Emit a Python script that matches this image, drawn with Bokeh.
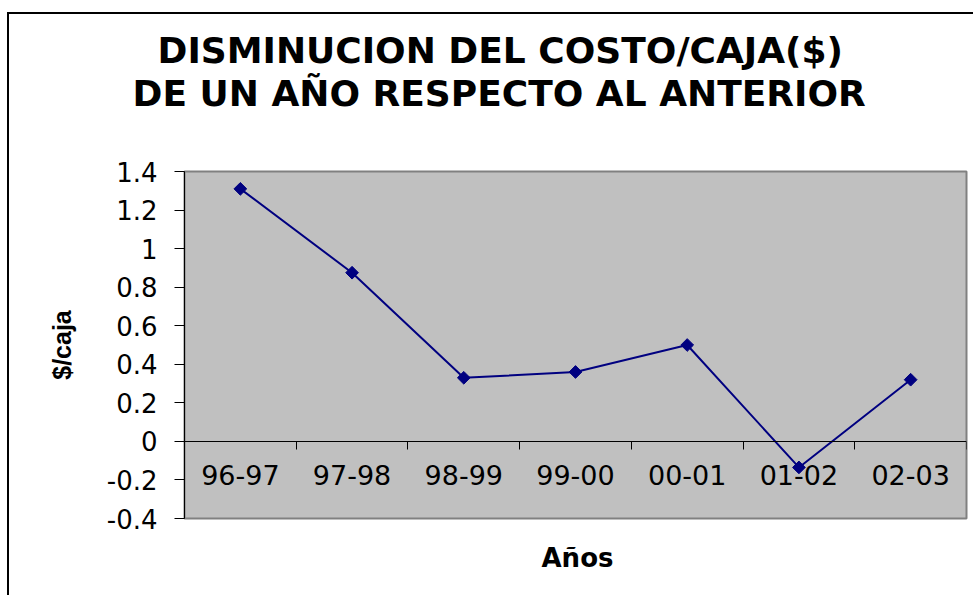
import math
from bokeh.plotting import figure
from bokeh.models import Range1d, FixedTicker, LinearAxis, Title, ColumnDataSource
from bokeh.embed import file_html
from bokeh.resources import INLINE

# ---- data ----
categories = ["96-97", "97-98", "98-99", "99-00", "00-01", "01-02", "02-03"]
values = [1.31, 0.875, 0.33, 0.36, 0.50, -0.135, 0.32]
ytick_values = [-0.4, -0.2, 0.0, 0.2, 0.4, 0.6, 0.8, 1.0, 1.2, 1.4]
ytick_labels = ["-0.4", "-0.2", "0", "0.2", "0.4", "0.6", "0.8", "1", "1.2", "1.4"]
title_lines = ["DISMINUCION DEL COSTO/CAJA($)", "DE UN AÑO RESPECTO AL ANTERIOR"]
x_title = "Años"
y_title = "$/caja"

n = len(categories)
xpos = [i + 0.5 for i in range(n)]
bounds = list(range(n + 1))
ymin, ymax = ytick_values[0], ytick_values[-1]

src = ColumnDataSource(dict(x=xpos, y=values, cat=categories))

p = figure(width=966, height=583, output_backend="svg", toolbar_location=None,
           x_range=Range1d(0, n), y_range=Range1d(ymin, ymax),
           x_axis_type=None, y_axis_type=None,
           min_border_left=175, min_border_top=157, min_border_right=9, min_border_bottom=79)
p.styles = {"border-left": "2px solid black", "border-top": "2px solid black",
            "margin-left": "7px", "margin-top": "12px"}
p.background_fill_color = "#C0C0C0"
p.border_fill_color = "white"
p.outline_line_color = "#808080"
p.outline_line_width = 2

# y axis
yaxis = LinearAxis(ticker=FixedTicker(ticks=ytick_values))
yaxis.major_label_overrides = {v: s for v, s in zip(ytick_values, ytick_labels)}
yaxis.major_label_text_font = "DejaVu Sans"
yaxis.major_label_text_font_size = "26px"
yaxis.major_label_text_color = "black"
yaxis.major_tick_out = 10
yaxis.major_tick_in = 0
yaxis.minor_tick_out = 0
yaxis.minor_tick_in = 0
yaxis.major_label_standoff = 17
yaxis.axis_line_color = "black"
yaxis.major_tick_line_color = "black"
yaxis.axis_label = y_title
yaxis.axis_label_text_font = "Liberation Sans"
yaxis.axis_label_text_font_style = "bold"
yaxis.axis_label_text_font_size = "25px"
yaxis.axis_label_text_color = "black"
yaxis.axis_label_standoff = 28
p.add_layout(yaxis, "left")

# horizontal grid lines
p.ygrid.grid_line_color = "black"
p.ygrid.ticker = FixedTicker(ticks=ytick_values)
p.xgrid.grid_line_color = None

# x axis with boundary ticks at y = 0
xaxis_ticks = LinearAxis(ticker=FixedTicker(ticks=bounds), fixed_location=0)
xaxis_ticks.major_label_text_alpha = 0
xaxis_ticks.major_tick_out = 8
xaxis_ticks.major_tick_in = 0
xaxis_ticks.minor_tick_out = 0
xaxis_ticks.minor_tick_in = 0
xaxis_ticks.axis_line_color = "black"
xaxis_ticks.major_tick_line_color = "black"
p.add_layout(xaxis_ticks, "below")

# x axis with category labels at centers
xaxis_labels = LinearAxis(ticker=FixedTicker(ticks=xpos), fixed_location=0)
xaxis_labels.major_label_overrides = {v: c for v, c in zip(xpos, categories)}
xaxis_labels.major_label_text_font = "DejaVu Sans"
xaxis_labels.major_label_text_font_size = "27px"
xaxis_labels.major_label_text_color = "black"
xaxis_labels.major_tick_out = 0
xaxis_labels.major_tick_in = 0
xaxis_labels.minor_tick_out = 0
xaxis_labels.minor_tick_in = 0
xaxis_labels.axis_line_color = None
xaxis_labels.major_label_standoff = 24
p.add_layout(xaxis_labels, "below")

# data
p.line("x", "y", source=src, line_color="#000080", line_width=2)
p.scatter("x", "y", source=src, marker="square", angle=math.pi / 4, size=9,
          fill_color="#000080", line_color="#000080")

# titles (first added is nearest the frame)
spacer = Title(text=" ", align="left", standoff=15,
               text_font="DejaVu Sans", text_font_size="36px", text_color="white")
t2 = Title(text=title_lines[1], align="left", offset=-52, standoff=0,
           text_font="DejaVu Sans", text_font_style="bold", text_font_size="36px",
           text_color="black")
t1 = Title(text=title_lines[0], align="left", offset=-27, standoff=0,
           text_font="DejaVu Sans", text_font_style="bold", text_font_size="36px",
           text_color="black")
p.add_layout(spacer, "above")
p.add_layout(t2, "above")
p.add_layout(t1, "above")

# x axis title below the plot area
tx = Title(text=x_title, align="left", offset=357, standoff=46, vertical_align="middle",
           text_font="DejaVu Sans", text_font_style="bold", text_font_size="26px",
           text_color="black")
p.add_layout(tx, "below")

open("out.html", "w").write(file_html(p, INLINE))
